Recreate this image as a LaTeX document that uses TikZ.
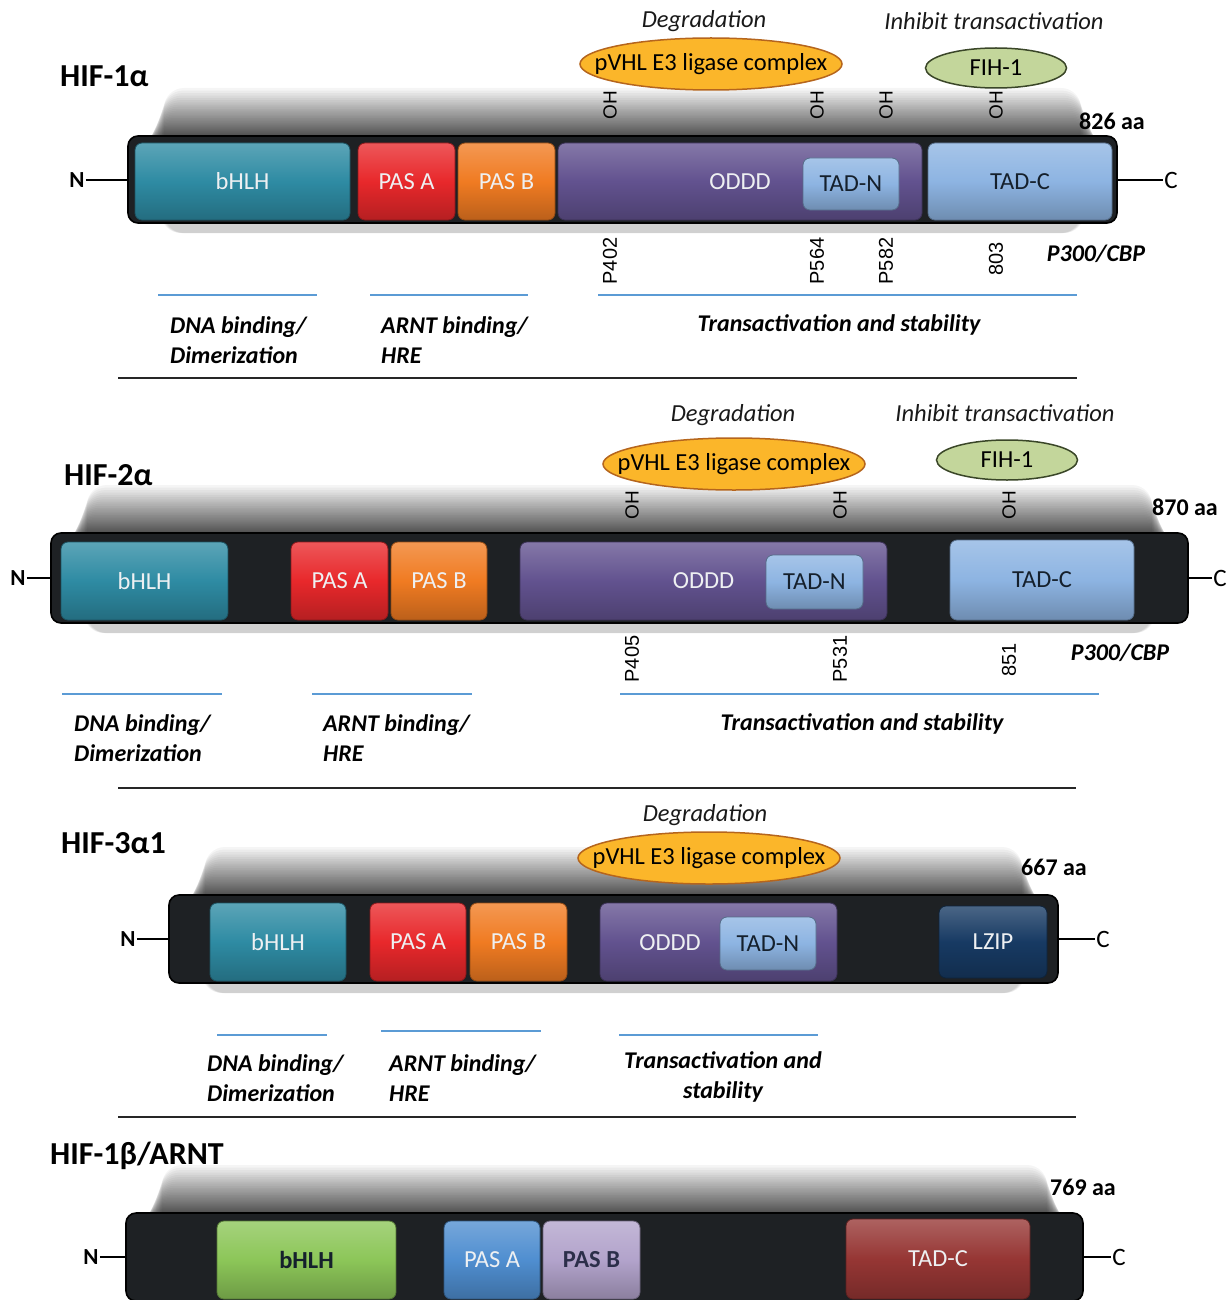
\documentclass[tikz,border=0pt]{standalone}
\usepackage{fontspec}
\setmainfont{Carlito}
\newfontfamily\arialfont{Liberation Sans}
\usetikzlibrary{shapes.geometric}

\definecolor{barc}{HTML}{1E2124}
\definecolor{tealc}{HTML}{2E8BA3}
\definecolor{redc}{HTML}{E8282B}
\definecolor{orngc}{HTML}{F07B22}
\definecolor{purpc}{HTML}{62528F}
\definecolor{ltbluec}{HTML}{8DB4E2}
\definecolor{navyc}{HTML}{173A63}
\definecolor{grnc}{HTML}{8CC658}
\definecolor{bluc}{HTML}{4F8ED0}
\definecolor{lavc}{HTML}{B2A3CB}
\definecolor{dredc}{HTML}{963634}
\definecolor{goldc}{HTML}{FBB62A}
\definecolor{goldb}{HTML}{B5651D}
\definecolor{fihc}{HTML}{C3D69B}
\definecolor{fihb}{HTML}{3A4628}
\definecolor{lineblue}{HTML}{5B9BD5}
\definecolor{lighttxt}{HTML}{EEF0F2}
\definecolor{darktxt}{HTML}{15202C}

\newcommand\sz[2]{\fontsize{#1}{#2}\selectfont}

\tikzset{
  dom/.style={rounded corners=7pt, draw=#1!60!black, line width=0.8pt,
    top color=#1!78!white, bottom color=#1!78!black, middle color=#1,
    inner sep=0pt, font=\sz{24.5}{27}},
  barn/.style={rounded corners=10pt, fill=barc, draw=black, line width=1.6pt, inner sep=0pt},
  title/.style={font=\bfseries\sz{32}{36}, anchor=west, inner sep=0pt},
  aalen/.style={font=\bfseries\sz{24}{27}, inner sep=0pt},
  nterm/.style={font=\bfseries\sz{23}{26}, inner sep=1pt},
  cterm/.style={font=\sz{25}{28}, inner sep=1pt},
  termline/.style={line width=1.2pt, black},
  role/.style={font=\itshape\sz{24.5}{27}, inner sep=0pt, text=black!90},
  func/.style={font=\bfseries\itshape\sz{24}{30}, align=left, anchor=west, inner sep=0pt},
  funcc/.style={font=\bfseries\itshape\sz{24}{30}, align=center, inner sep=0pt},
  site/.style={font=\arialfont\sz{20}{24}, rotate=90, inner sep=0pt},
  ohlab/.style={font=\arialfont\sz{19}{22}, rotate=90, inner sep=0pt},
  enz/.style={ellipse, line width=1.5pt, inner sep=0pt, font=\sz{24.5}{27}},
  sepline/.style={line width=1.8pt, black!85},
  blline/.style={line width=1.6pt, lineblue},
}

% name, x1, y1, x2, y2, fill, text colour, label
\newcommand\mkdom[8]{%
  \node[dom=#6, text=#7, minimum width={(#4)-(#2)}, minimum height={(#5)-(#3)}]
    (#1) at ({((#2)+(#4))/2},{((#3)+(#5))/2}) {#8};}
% name, x1, y1, x2, y2  (bar with a soft shadow above it)
\newcommand\mkbar[5]{%
  \foreach \i in {0,...,39}{%
    \fill[black, opacity=0.04, rounded corners=20pt]
      ({#2+4+32*(1-\i/40)},{#3+4-52*(1-\i/40)^2}) rectangle
      ({#4-4-32*(1-\i/40)},{#5+10*(\i<5)});}
  \node[barn, minimum width={(#4)-(#2)}, minimum height={(#5)-(#3)}]
    (#1) at ({((#2)+(#4))/2},{((#3)+(#5))/2}) {};}

\begin{document}
\begin{tikzpicture}[x=1pt, y=-1pt]
\useasboundingbox (0,0) rectangle (1231,1300);
\clip (0,0) rectangle (1231,1300);

%================ HIF-1alpha =================
\node[title] (t1) at (60,76) {HIF-1α};
\mkbar{bar1}{128}{136}{1117}{223}
\node[role] (deg1) at (704,21) {Degradation};
\node[role] (inh1) at (994,21) {Inhibit transactivation};
\node[enz, fill=goldc, draw=goldb, minimum width=262, minimum height=52] (vhl1) at (711,64) {\makebox[0pt]{pVHL E3 ligase complex}};
\node[enz, fill=fihc, draw=fihb, minimum width=141, minimum height=40] (fih1) at (996,68) {\makebox[0pt]{FIH-1}};
\node[ohlab] (oh1a) at (610,105) {OH};
\node[ohlab] (oh1b) at (817,105) {OH};
\node[ohlab] (oh1c) at (886,105) {OH};
\node[ohlab] (oh1d) at (996,105) {OH};
\node[aalen] (len1) at (1112,121) {826 aa};
\mkdom{bhlh1}{135}{143}{350}{220}{tealc}{lighttxt}{bHLH}
\mkdom{pasa1}{358}{143}{455}{220}{redc}{lighttxt}{PAS A}
\mkdom{pasb1}{458}{143}{555}{220}{orngc}{lighttxt}{PAS B}
\mkdom{oddd1}{558}{143}{922}{220}{purpc}{lighttxt}{ODDD}
\mkdom{tadn1}{803}{158}{899}{210}{ltbluec}{darktxt}{TAD-N}
\mkdom{tadc1}{928}{143}{1112}{220}{ltbluec}{darktxt}{TAD-C}
\node[nterm] (n1) at (77,180) {N};
\node[cterm] (c1) at (1171,180) {C};
\draw[termline] (n1.east) -- (n1.east -| bar1.west);
\draw[termline] (bar1.east |- c1.west) -- (c1.west);
\node[site] (s1a) at (610,261) {P402};
\node[site] (s1b) at (817,261) {P564};
\node[site] (s1c) at (886,261) {P582};
\node[site] (s1d) at (996,259) {803};
\node[funcc] (cbp1) at (1096,254) {P300/CBP};
\draw[blline] (158,295) -- (317,295);
\draw[blline] (370,295) -- (528,295);
\draw[blline] (598,295) -- (1077,295);
\node[func] (f1a) at (170,340) {DNA binding/\\Dimerization};
\node[func] (f1b) at (381,340) {ARNT binding/\\HRE};
\node[funcc] (f1c) at (839,325) {Transactivation and stability};
\draw[sepline] (118,378) -- (1077,378);

%================ HIF-2alpha =================
\node[title] (t2) at (64,475) {HIF-2α};
\mkbar{bar2}{51}{533}{1188}{623}
\node[role] (deg2) at (733,415) {Degradation};
\node[role] (inh2) at (1005,413) {Inhibit transactivation};
\node[enz, fill=goldc, draw=goldb, minimum width=262, minimum height=52] (vhl2) at (734,464) {\makebox[0pt]{pVHL E3 ligase complex}};
\node[enz, fill=fihc, draw=fihb, minimum width=141, minimum height=40] (fih2) at (1007,460) {\makebox[0pt]{FIH-1}};
\node[ohlab] (oh2a) at (632,505) {OH};
\node[ohlab] (oh2b) at (840,505) {OH};
\node[ohlab] (oh2c) at (1009,505) {OH};
\node[aalen] (len2) at (1185,507) {870 aa};
\mkdom{bhlh2}{61}{542}{228}{620}{tealc}{lighttxt}{bHLH}
\mkdom{pasa2}{291}{542}{388}{620}{redc}{lighttxt}{PAS A}
\mkdom{pasb2}{391}{542}{487}{620}{orngc}{lighttxt}{PAS B}
\mkdom{oddd2}{520}{542}{887}{620}{purpc}{lighttxt}{ODDD}
\mkdom{tadn2}{766}{555}{863}{609}{ltbluec}{darktxt}{TAD-N}
\mkdom{tadc2}{950}{540}{1134}{620}{ltbluec}{darktxt}{TAD-C}
\node[nterm] (n2) at (18,578) {N};
\node[cterm] (c2) at (1220,578) {C};
\draw[termline] (n2.east) -- (n2.east -| bar2.west);
\draw[termline] (bar2.east |- c2.west) -- (c2.west);
\node[site] (s2a) at (632,659) {P405};
\node[site] (s2b) at (840,659) {P531};
\node[site] (s2c) at (1009,660) {851};
\node[funcc] (cbp2) at (1120,653) {P300/CBP};
\draw[blline] (62,694) -- (222,694);
\draw[blline] (312,694) -- (472,694);
\draw[blline] (620,694) -- (1099,694);
\node[func] (f2a) at (74,738) {DNA binding/\\Dimerization};
\node[func] (f2b) at (323,738) {ARNT binding/\\HRE};
\node[funcc] (f2c) at (862,724) {Transactivation and stability};
\draw[sepline] (118,788) -- (1076,788);

%================ HIF-3alpha1 =================
\node[title] (t3) at (61,843) {HIF-3α1};
\mkbar{bar3}{169}{895}{1058}{983}
\node[role] (deg3) at (705,815) {Degradation};
\node[enz, fill=goldc, draw=goldb, minimum width=262, minimum height=52] (vhl3) at (709,858) {\makebox[0pt]{pVHL E3 ligase complex}};
\node[aalen] (len3) at (1054,867) {667 aa};
\mkdom{bhlh3}{210}{903}{346}{981}{tealc}{lighttxt}{bHLH}
\mkdom{pasa3}{370}{903}{466}{981}{redc}{lighttxt}{PAS A}
\mkdom{pasb3}{470}{903}{567}{981}{orngc}{lighttxt}{PAS B}
\mkdom{oddd3}{600}{903}{837}{981}{purpc}{lighttxt}{}
\node[font=\sz{24.5}{27}, text=lighttxt, inner sep=0pt] (odl3) at (670,943) {ODDD};
\mkdom{tadn3}{720}{917}{816}{970}{ltbluec}{darktxt}{TAD-N}
\mkdom{lzip3}{939}{906}{1047}{978}{navyc}{lighttxt}{LZIP}
\node[nterm] (n3) at (128,939) {N};
\node[cterm] (c3) at (1103,939) {C};
\draw[termline] (n3.east) -- (n3.east -| bar3.west);
\draw[termline] (bar3.east |- c3.west) -- (c3.west);
\draw[blline] (217,1035) -- (327,1035);
\draw[blline] (381,1031) -- (541,1031);
\draw[blline] (619,1035) -- (818,1035);
\node[func] (f3a) at (207,1078) {DNA binding/\\Dimerization};
\node[func] (f3b) at (389,1078) {ARNT binding/\\HRE};
\node[funcc] (f3c) at (723,1077) {Transactivation and\\stability};
\draw[sepline] (118,1117) -- (1076,1117);

%================ HIF-1beta / ARNT =================
\node[title] (t4) at (50,1156) {HIF-1β/ARNT};
\mkbar{bar4}{126}{1213}{1083}{1301}
\node[aalen] (len4) at (1083,1187) {769 aa};
\mkdom{bhlh4}{217}{1221}{396}{1299}{grnc}{darktxt}{\bfseries bHLH}
\mkdom{pasa4}{444}{1221}{540}{1299}{bluc}{lighttxt}{PAS A}
\mkdom{pasb4}{543}{1221}{640}{1299}{lavc}{darktxt!70!purpc}{\bfseries PAS B}
\mkdom{tadc4}{846}{1219}{1030}{1299}{dredc}{lighttxt}{TAD-C}
\node[nterm] (n4) at (91,1257) {N};
\node[cterm] (c4) at (1119,1257) {C};
\draw[termline] (n4.east) -- (n4.east -| bar4.west);
\draw[termline] (bar4.east |- c4.west) -- (c4.west);
\end{tikzpicture}
\end{document}
